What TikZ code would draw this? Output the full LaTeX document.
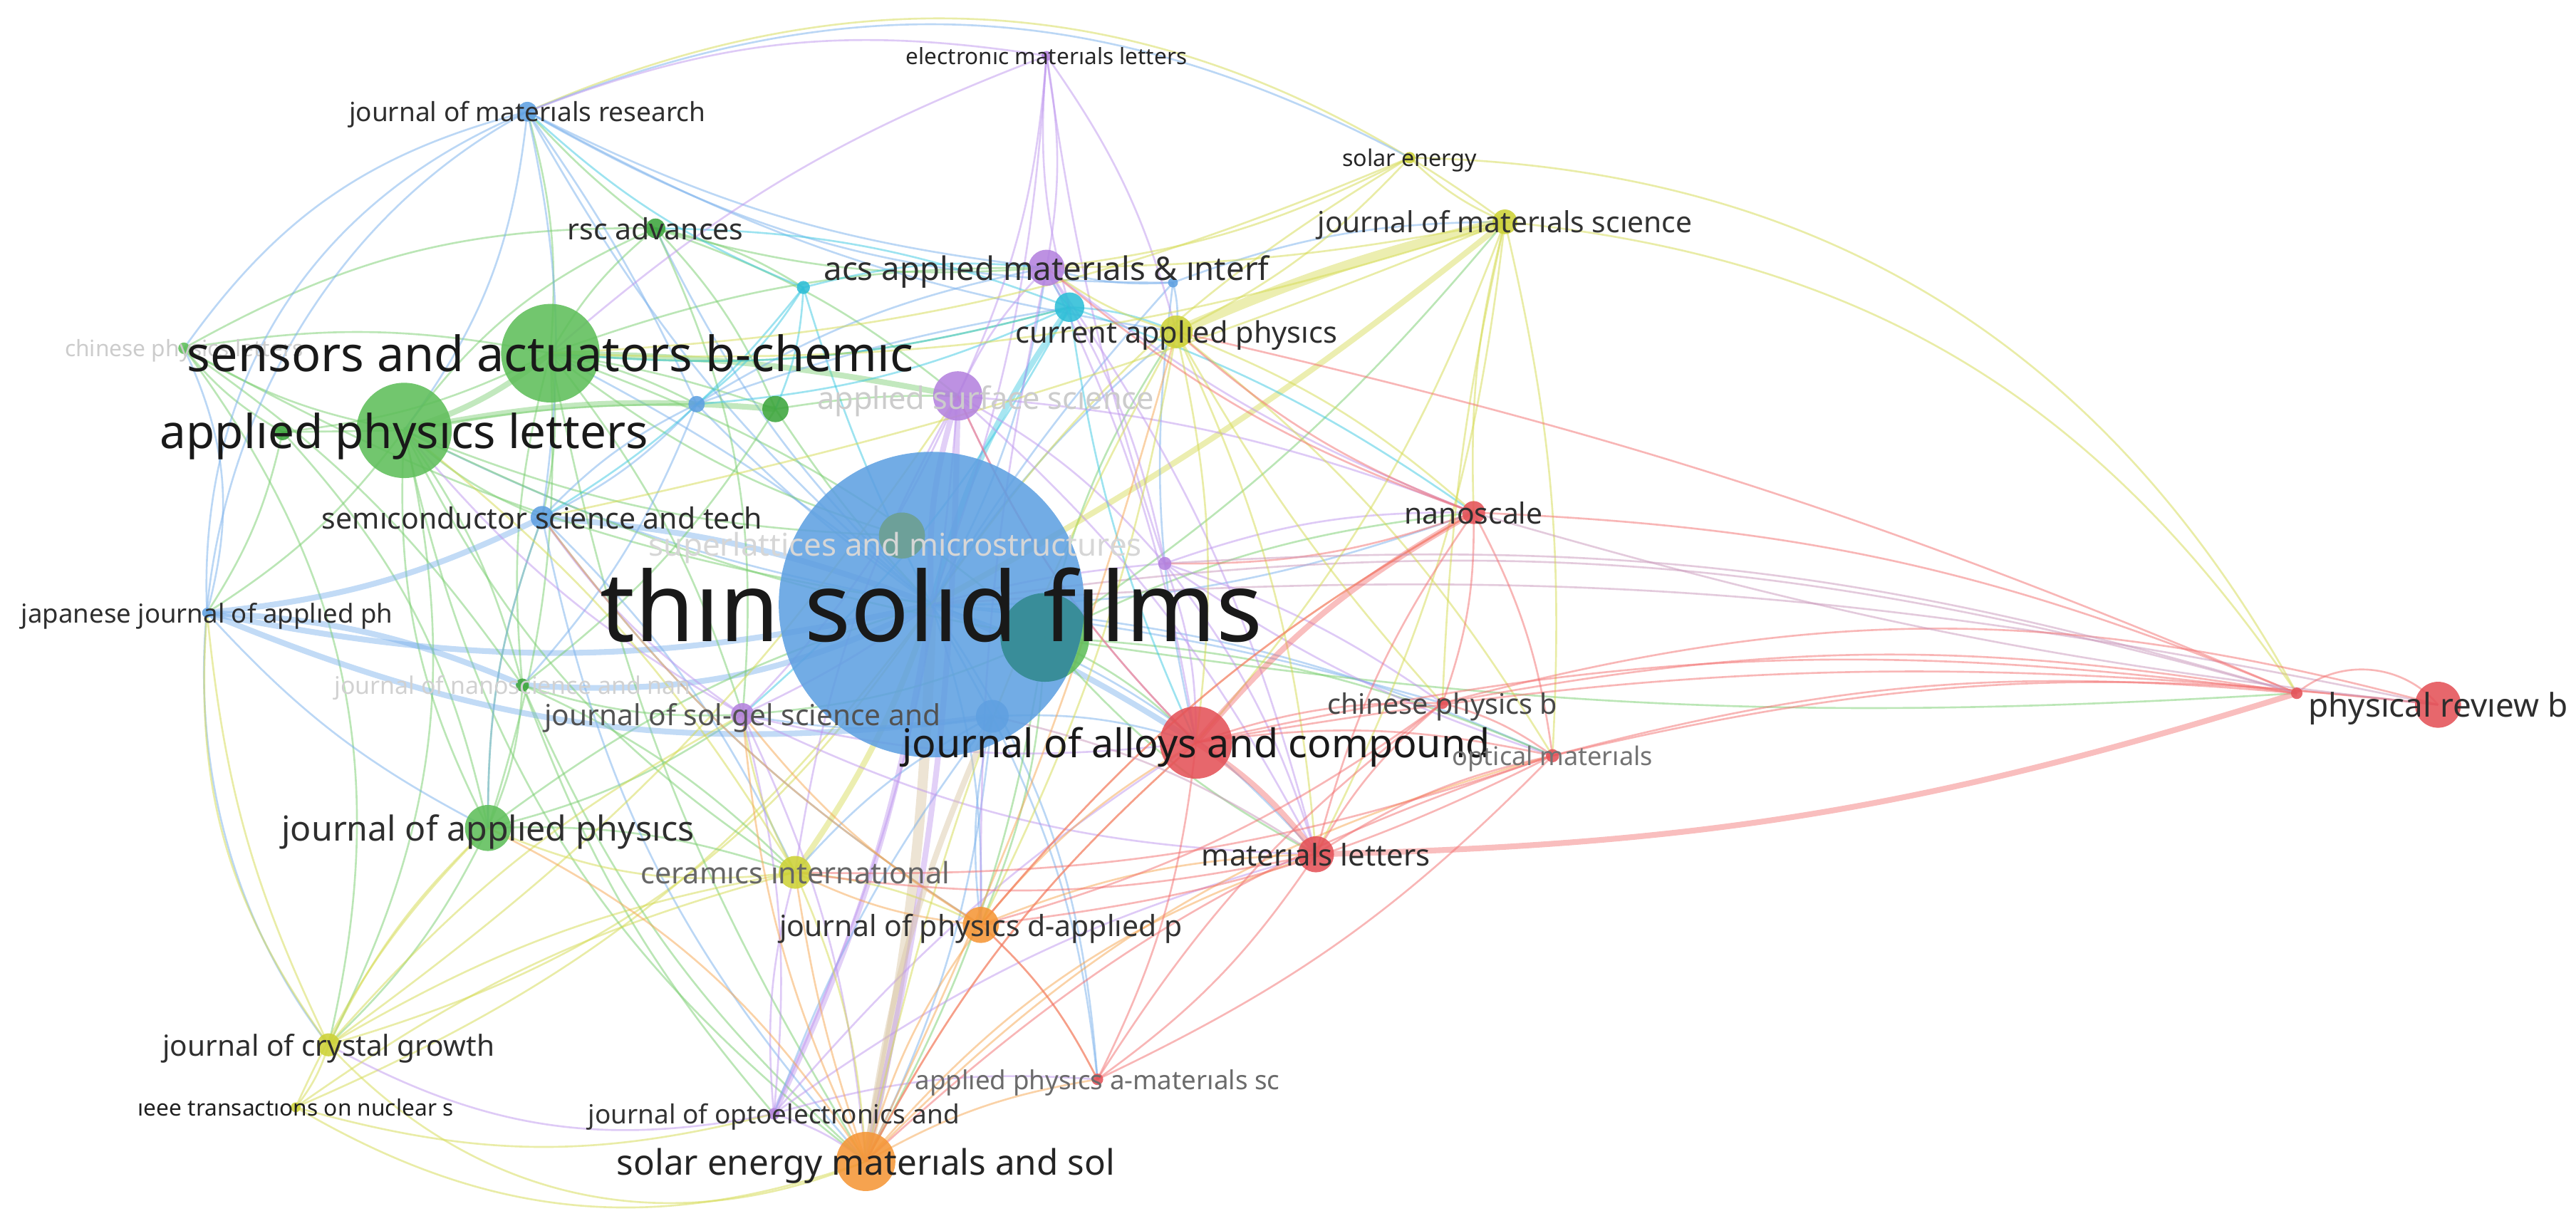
\documentclass[tikz,border=0pt]{standalone}
\usepackage{fontspec}
\setmainfont{Noto Sans}
\usepackage{graphicx}
\pgfdeclarelayer{edges}
\pgfsetlayers{edges,main}
\definecolor{cb}{RGB}{95,160,225}
\definecolor{cg}{RGB}{95,190,90}
\definecolor{cgd}{RGB}{60,165,60}
\definecolor{cr}{RGB}{228,82,88}
\definecolor{cy}{RGB}{205,210,55}
\definecolor{cp}{RGB}{180,130,222}
\definecolor{cc}{RGB}{45,190,215}
\definecolor{co}{RGB}{245,150,55}
\definecolor{cteal}{RGB}{55,140,150}
\definecolor{csup}{RGB}{110,160,150}
\definecolor{lb}{RGB}{120,175,235}
\definecolor{lg}{RGB}{120,205,110}
\definecolor{lr}{RGB}{242,110,110}
\definecolor{ly}{RGB}{212,218,80}
\definecolor{lp}{RGB}{190,150,238}
\definecolor{lc}{RGB}{60,200,225}
\definecolor{lo}{RGB}{245,165,80}
\definecolor{lt}{RGB}{215,195,160}
\definecolor{lm}{RGB}{200,150,185}
\newlength\U
\setlength\U{0.02cm}
\newcommand\jnode[4]{\node[dot,minimum size=#3cm,fill=#4] (#1) at (#2) {};}
\newcommand\edg[4]{\draw[#3] (#1.center) to[bend left=#4] (#2.center);}
\newcommand\lab[5]{\node[lbl,text=#4] (l-#1) at (#2) {\resizebox{#3\U}{!}{\raisebox{0pt}[\height][0pt]{\vphantom{l}#5}}};}
\tikzset{
  dot/.style={circle,inner sep=0pt,draw=none,fill opacity=0.88},
  lbl/.style={inner sep=0pt,anchor=center},
  ebase/.style={line width=0.65pt,opacity=0.5},
  eb/.style={ebase,draw=lb},
  eg/.style={ebase,draw=lg},
  er/.style={ebase,draw=lr},
  ey/.style={ebase,draw=ly},
  ep/.style={ebase,draw=lp},
  ec/.style={ebase,draw=lc},
  eo/.style={ebase,draw=lo},
  et/.style={ebase,draw=lt},
  em/.style={ebase,draw=lm},
  thk/.style={line width=2pt,opacity=0.45},
  thkk/.style={line width=3.5pt,opacity=0.45}
}
\begin{document}
\begin{tikzpicture}[x=0.02cm,y=-0.02cm]
\useasboundingbox (0,0) rectangle (1568,743);
% ---------- nodes (circles) ----------
\jnode{gx}{636,388}{1.08}{cg}
\jnode{sup}{549,326}{0.56}{cg}
\jnode{tsf}{567,368}{3.72}{cb}
\begin{scope}
\clip (tsf.center) circle (1.86cm);
\fill[cteal,opacity=0.95] (gx.center) circle (0.54cm);
\fill[csup,opacity=0.95] (sup.center) circle (0.28cm);
\end{scope}
\jnode{saa}{335,215}{1.2}{cg}
\jnode{apl}{246,262}{1.16}{cg}
\jnode{jap}{297,504}{0.56}{cg}
\jnode{jac}{728,452}{0.88}{cr}
\jnode{prb}{1484,429}{0.56}{cr}
\jnode{rdot}{1398,422}{0.14}{cr}
\jnode{nano}{897,312}{0.28}{cr}
\jnode{cpb}{878,428}{0.14}{cr}
\jnode{om}{945,460}{0.16}{cr}
\jnode{ml}{801,520}{0.44}{cr}
\jnode{apa}{668,657}{0.14}{cr}
\jnode{sem}{527,707}{0.72}{co}
\jnode{jpd}{597,563}{0.44}{co}
\jnode{ci}{484,531}{0.40}{cy}
\jnode{jcg}{200,636}{0.28}{cy}
\jnode{ieee}{180,674}{0.12}{cy}
\jnode{joe}{471,678}{0.14}{cp}
\jnode{jsg}{452,435}{0.28}{cp}
\jnode{jnn}{318,417}{0.16}{cgd}
\jnode{jjap}{126,373}{0.12}{cb}
\jnode{sst}{330,315}{0.28}{cb}
\jnode{cpl}{112,212}{0.14}{cg}
\jnode{rsc}{399,139}{0.24}{cgd}
\jnode{jmr}{321,68}{0.24}{cb}
\jnode{eml}{637,34}{0.12}{cp}
\jnode{se}{858,96}{0.14}{cy}
\jnode{jms}{916,135}{0.30}{cy}
\jnode{acs}{637,163}{0.44}{cp}
\jnode{cap}{716,202}{0.40}{cy}
\jnode{cy1}{651,187}{0.36}{cc}
\jnode{b1}{714,172}{0.12}{cb}
\jnode{cy2}{489,175}{0.16}{cc}
\jnode{ass}{583,241}{0.60}{cp}
\jnode{g1}{472,249}{0.32}{cgd}
\jnode{b2}{424,246}{0.20}{cb}
\jnode{b3}{604,436}{0.40}{cb}
\jnode{p1}{709,343}{0.16}{cp}
\jnode{g2}{172,263}{0.20}{cgd}
% ---------- edges ----------
\begin{pgfonlayer}{edges}
% blue hub
\edg{tsf}{jmr}{eb}{10}
\edg{tsf}{sst}{eb,thk}{-8}
\edg{tsf}{jjap}{eb,thk}{12}
\edg{tsf}{jnn}{eb,thk}{15}
\edg{tsf}{b2}{eb}{5}
\edg{tsf}{apl}{eb}{8}
\edg{tsf}{saa}{eb}{-6}
\edg{tsf}{rsc}{eb}{10}
\edg{tsf}{acs}{eb}{-10}
\edg{tsf}{cap}{eb}{8}
\edg{tsf}{b1}{eb}{5}
\edg{tsf}{cy2}{ec}{5}
\edg{tsf}{cy1}{ec,thk}{10}
\edg{tsf}{jms}{ey,thk}{-5}
\edg{tsf}{sem}{et,thkk}{5}
\edg{tsf}{jpd}{eb}{10}
\edg{tsf}{ci}{ey,thk}{8}
\edg{tsf}{jcg}{ey}{20}
\edg{tsf}{jap}{eg}{-10}
\edg{tsf}{jac}{eb,thk}{5}
\edg{tsf}{ml}{eb}{15}
\edg{tsf}{nano}{eb}{-10}
\edg{tsf}{rdot}{em}{12}
\edg{tsf}{prb}{em}{8}
\edg{tsf}{om}{eb}{10}
\edg{tsf}{cpb}{eb}{5}
\edg{tsf}{apa}{eb}{15}
\edg{tsf}{joe}{ep,thk}{8}
\edg{tsf}{jsg}{ep}{5}
\edg{tsf}{ass}{ep,thk}{10}
\edg{tsf}{eml}{ep}{-8}
\edg{tsf}{se}{ey}{12}
\edg{tsf}{cpl}{eg}{10}
\edg{tsf}{ieee}{ey}{15}
\edg{tsf}{b3}{eb}{0}
\edg{tsf}{p1}{ep}{5}
\edg{tsf}{g1}{eg}{5}
% teal / green node in centre
\edg{gx}{jac}{eg}{10}
\edg{gx}{nano}{eg}{10}
\edg{gx}{ml}{eg}{-10}
\edg{gx}{sem}{eg}{10}
\edg{gx}{cap}{eg}{10}
\edg{gx}{jms}{eg}{-8}
\edg{gx}{jpd}{eg}{10}
\edg{gx}{om}{eg}{10}
\edg{gx}{rdot}{eg}{-6}
\edg{gx}{jsg}{eg}{10}
% green
\edg{saa}{apl}{eg,thk}{10}
\edg{saa}{rsc}{eg}{10}
\edg{saa}{g1}{eg}{5}
\edg{apl}{rsc}{eg}{15}
\edg{apl}{jap}{eg}{-15}
\edg{apl}{cpl}{eg}{10}
\edg{apl}{g2}{eg}{0}
\edg{saa}{cpl}{eg}{-10}
\edg{saa}{jap}{eg}{10}
\edg{apl}{jnn}{eg}{10}
\edg{saa}{jnn}{eg}{-10}
\edg{rsc}{g1}{eg}{10}
\edg{rsc}{jmr}{eg}{5}
\edg{rsc}{cy2}{eg}{10}
\edg{rsc}{acs}{eg}{-10}
\edg{jap}{jcg}{eg}{10}
\edg{jap}{sst}{eg}{10}
\edg{apl}{sst}{eg}{-10}
\edg{apl}{jjap}{eg}{10}
\edg{saa}{jmr}{eg}{-10}
\edg{g2}{jap}{eg}{15}
\edg{g2}{saa}{eg}{-10}
\edg{cpl}{rsc}{eg}{15}
\edg{apl}{jcg}{eg}{20}
\edg{jnn}{jap}{eg}{10}
\edg{g1}{ass}{eg}{5}
\edg{saa}{ass}{eg,thk}{5}
\edg{saa}{acs}{eg}{10}
\edg{apl}{b2}{eg}{5}
\edg{apl}{ci}{eg}{-15}
\edg{saa}{jsg}{eg}{10}
\edg{saa}{sst}{eg}{10}
\edg{saa}{cy1}{eg}{-10}
\edg{apl}{g1}{eg,thk}{8}
\edg{saa}{b2}{eg}{8}
\edg{rsc}{ass}{eg}{10}
\edg{g2}{cpl}{eg}{10}
\edg{g2}{jjap}{eg}{10}
\edg{saa}{gx}{eg}{10}
\edg{apl}{gx}{eg}{-8}
\edg{rsc}{jsg}{eg}{15}
\edg{jnn}{ci}{eg}{10}
\edg{jnn}{jsg}{eg}{-10}
\edg{jap}{ci}{eg}{10}
\edg{jap}{jsg}{eg}{-10}
\edg{g1}{jnn}{eg}{10}
\edg{sup}{saa}{eg}{10}
\edg{sup}{apl}{eg}{10}
\edg{cpl}{jcg}{eg}{25}
\edg{cpl}{jnn}{eg}{10}
\edg{jnn}{sem}{eg}{-12}
\edg{jnn}{joe}{eg}{-10}
\edg{apl}{sem}{eg}{-20}
\edg{saa}{sem}{eg}{-10}
% blue
\edg{jmr}{sst}{eb}{10}
\edg{jmr}{jjap}{eb}{-35}
\edg{jmr}{b2}{eb}{5}
\edg{jmr}{apl}{eb}{15}
\edg{jmr}{jcg}{eb}{-50}
\edg{jmr}{acs}{eb}{-10}
\edg{jmr}{cap}{eb}{-10}
\edg{jmr}{b1}{eb}{-15}
\edg{jmr}{jms}{ey}{30}
\edg{jmr}{se}{eb}{25}
\edg{sst}{jjap}{eb,thk}{10}
\edg{sst}{b2}{eb}{10}
\edg{sst}{jap}{eb}{-10}
\edg{jjap}{jap}{eb}{-10}
\edg{jjap}{jcg}{ey}{-20}
\edg{b1}{cap}{eb}{10}
\edg{b1}{acs}{eb}{10}
\edg{b3}{jac}{eb}{10}
\edg{b3}{sem}{eb}{10}
\edg{b3}{jpd}{eb}{-10}
\edg{b2}{jnn}{eb}{10}
\edg{b2}{sst}{eb}{10}
\edg{jjap}{jnn}{eb,thk}{10}
\edg{jjap}{b3}{eb,thk}{-15}
\edg{b2}{acs}{eb}{10}
\edg{b2}{cy1}{eb}{5}
\edg{b1}{jms}{eb}{10}
\edg{b1}{jac}{eb}{-10}
\edg{jjap}{cpl}{eb}{-20}
\edg{jmr}{cpl}{eb}{-20}
\edg{b3}{jsg}{eb}{10}
\edg{b3}{ci}{eb}{-10}
\edg{b3}{apa}{eb}{10}
\edg{b3}{joe}{eb}{-8}
\edg{sst}{sem}{eb}{-15}
\edg{sst}{jpd}{eb}{-10}
\edg{sst}{ci}{eb}{10}
% cyan
\edg{cy1}{acs}{ec}{10}
\edg{cy1}{cap}{ec}{10}
\edg{cy2}{acs}{ec}{10}
\edg{cy2}{b2}{ec}{10}
\edg{cy1}{rsc}{ec}{-10}
\edg{cy1}{saa}{ec}{10}
\edg{cy2}{jmr}{ec}{10}
\edg{cy1}{b2}{ec}{10}
\edg{cy2}{sst}{ec}{10}
\edg{cy1}{jsg}{ec}{10}
\edg{cy2}{g1}{ec}{10}
\edg{cy1}{jac}{ec}{-8}
\edg{cy1}{nano}{ec}{8}
% purple
\edg{eml}{acs}{ep}{10}
\edg{eml}{ass}{ep}{10}
\edg{eml}{cy1}{ep}{-10}
\edg{eml}{cap}{ep}{10}
\edg{eml}{jmr}{ep}{-15}
\edg{eml}{saa}{ep}{-10}
\edg{eml}{p1}{ep}{-5}
\edg{ass}{acs}{ep}{10}
\edg{p1}{jac}{ep}{10}
\edg{p1}{nano}{ep}{10}
\edg{p1}{ml}{ep}{10}
\edg{p1}{om}{ep}{-8}
\edg{p1}{cpb}{ep}{8}
\edg{jsg}{joe}{ep}{10}
\edg{jsg}{sem}{ep}{10}
\edg{joe}{sem}{ep}{10}
\edg{joe}{jcg}{ep}{20}
\edg{jsg}{apl}{ep}{10}
\edg{jsg}{sst}{ep}{10}
\edg{ass}{jsg}{ep}{10}
\edg{ass}{joe}{ep}{10}
\edg{ass}{p1}{ep}{10}
\edg{ass}{jac}{ep}{-10}
\edg{ass}{nano}{ep}{8}
\edg{ass}{ml}{ep}{10}
\edg{acs}{jac}{ep}{8}
\edg{acs}{nano}{ep}{-8}
\edg{acs}{ml}{ep}{10}
\edg{acs}{jpd}{ep}{-6}
\edg{joe}{apa}{ep}{10}
\edg{joe}{ci}{ep}{10}
\edg{joe}{jac}{ep}{8}
\edg{joe}{ml}{ep}{10}
\edg{jsg}{jac}{ep}{-10}
\edg{jsg}{ml}{ep}{-12}
\edg{acs}{p1}{ep}{10}
\edg{ass}{ci}{ep}{-10}
\edg{sem}{ass}{ep,thk}{-6}
% yellow
\edg{jms}{se}{ey}{10}
\edg{jms}{cap}{ey,thkk}{-5}
\edg{jms}{rdot}{ey}{25}
\edg{se}{rdot}{ey}{30}
\edg{jms}{jac}{ey}{10}
\edg{jms}{ml}{ey}{10}
\edg{jms}{om}{ey}{8}
\edg{jms}{nano}{ey}{-8}
\edg{jms}{cpb}{ey}{-5}
\edg{se}{cap}{ey}{10}
\edg{se}{acs}{ey}{10}
\edg{se}{saa}{ey}{10}
\edg{jms}{acs}{ey}{5}
\edg{jms}{saa}{ey}{10}
\edg{jms}{sst}{ey}{5}
\edg{ci}{jcg}{ey}{-10}
\edg{ci}{jpd}{ey}{10}
\edg{ci}{sem}{ey}{10}
\edg{jcg}{ieee}{ey}{10}
\edg{jcg}{sem}{ey}{-35}
\edg{ieee}{sem}{ey}{-25}
\edg{jcg}{jap}{ey}{10}
\edg{ieee}{jap}{ey}{10}
\edg{cap}{jac}{ey}{10}
\edg{cap}{ml}{ey}{10}
\edg{cap}{om}{ey}{10}
\edg{cap}{cpb}{ey}{-6}
\edg{cap}{jpd}{ey}{8}
\edg{cap}{sem}{ey}{-8}
\edg{ci}{jsg}{ey}{10}
\edg{jcg}{jjap}{ey}{10}
\edg{cap}{acs}{ey}{10}
\edg{cap}{nano}{ey}{10}
\edg{ci}{jap}{ey}{15}
\edg{ci}{apl}{ey}{-10}
\edg{jcg}{jsg}{ey}{10}
\edg{jcg}{ass}{ey}{-10}
\edg{ieee}{ci}{ey}{10}
\edg{ieee}{joe}{ey}{-15}
% orange
\edg{sem}{jpd}{eo}{10}
\edg{sem}{jac}{eo}{10}
\edg{sem}{ml}{eo}{15}
\edg{sem}{apa}{eo}{10}
\edg{jpd}{jac}{eo}{10}
\edg{jpd}{ml}{eo}{10}
\edg{jpd}{ci}{eo}{10}
\edg{jpd}{apa}{eo}{10}
\edg{sem}{om}{eo}{15}
\edg{sem}{ci}{eo}{5}
\edg{jpd}{sst}{eo}{10}
\edg{jpd}{jsg}{eo}{10}
\edg{sem}{jsg}{eo}{10}
\edg{sem}{cap}{eo}{-5}
\edg{jpd}{nano}{eo}{10}
\edg{sem}{jap}{eo}{-15}
\edg{sem}{b3}{et,thk}{8}
% red
\edg{jac}{nano}{er,thk}{10}
\edg{jac}{cpb}{er}{10}
\edg{jac}{om}{er}{10}
\edg{jac}{ml}{er,thk}{10}
\edg{jac}{apa}{er}{10}
\edg{jac}{rdot}{er}{10}
\edg{jac}{prb}{er}{8}
\edg{ml}{rdot}{er,thk}{-8}
\edg{ml}{om}{er}{10}
\edg{ml}{cpb}{er}{10}
\edg{ml}{nano}{er}{10}
\edg{ml}{apa}{er}{10}
\edg{nano}{om}{er}{10}
\edg{nano}{cpb}{er}{10}
\edg{nano}{rdot}{er}{10}
\edg{cpb}{om}{er}{10}
\edg{cpb}{rdot}{er}{10}
\edg{om}{rdot}{er}{10}
\edg{om}{apa}{er}{10}
\edg{rdot}{prb}{er}{45}
\edg{apa}{cpb}{er}{10}
\edg{om}{jpd}{er}{10}
\edg{nano}{jpd}{er}{-10}
\edg{cap}{rdot}{er}{5}
\edg{nano}{acs}{er}{10}
\edg{nano}{cap}{er}{10}
\edg{cpb}{jpd}{er}{10}
\edg{om}{ci}{er}{10}
\edg{nano}{p1}{er}{10}
\edg{ml}{ci}{er}{10}
\edg{jac}{ass}{er}{10}
\edg{om}{prb}{er}{10}
\edg{cpb}{prb}{er}{15}
\edg{jac}{sem}{er}{-10}
\edg{apa}{jpd}{er}{-10}
\edg{om}{sem}{er}{-12}
\edg{p1}{rdot}{em}{10}
\edg{b3}{ml}{em}{10}
\edg{nano}{prb}{em}{-5}
\end{pgfonlayer}
% ---------- labels ----------
\lab{sup}{545,331}{300}{black!16}{superlattices and microstructures}
\lab{ass}{600,242}{205}{black!20}{applıed surface scıence}
\lab{jnn}{312,417}{217}{black!18}{journal of nanoscience and nan}
\lab{cpl}{112,212}{145}{black!20}{chinese physics letters}
\lab{tsf}{tsf.center}{403}{black!90}{thın solıd fılms}
\lab{saa}{saa.center}{442}{black!90}{sensors and actuators b-chemıc}
\lab{apl}{apl.center}{297}{black!90}{applıed physıcs letters}
\lab{jap}{jap.center}{251}{black!82}{journal of applıed physıcs}
\lab{jac}{jac.center}{358}{black!90}{journal of alloys and compound}
\lab{prb}{prb.center}{158}{black!82}{physıcal revıew b}
\lab{nano}{nano.center}{84}{black!82}{nanoscale}
\lab{cpb}{cpb.center}{140}{black!72}{chinese physics b}
\lab{om}{om.center}{122}{black!55}{optical materıals}
\lab{ml}{ml.center}{139}{black!82}{materıals letters}
\lab{apa}{apa.center}{222}{black!58}{applıed physıcs a-materıals sc}
\lab{sem}{sem.center}{303}{black!86}{solar energy materıals and sol}
\lab{jpd}{jpd.center}{245}{black!80}{journal of physıcs d-applıed p}
\lab{ci}{ci.center}{188}{black!60}{ceramıcs ınternatıonal}
\lab{jcg}{jcg.center}{202}{black!82}{journal of crystal growth}
\lab{ieee}{ieee.center}{192}{black!88}{ıeee transactıons on nuclear s}
\lab{joe}{joe.center}{226}{black!80}{journal of optoelectronics and}
\lab{jsg}{jsg.center}{241}{black!68}{journal of sol-gel science and}
\lab{jjap}{jjap.center}{226}{black!82}{japanese journal of applıed ph}
\lab{sst}{sst.center}{268}{black!82}{semıconductor science and tech}
\lab{rsc}{rsc.center}{107}{black!82}{rsc advances}
\lab{jmr}{jmr.center}{217}{black!82}{journal of materıals research}
\lab{eml}{eml.center}{171}{black!85}{electronıc materıals letters}
\lab{se}{se.center}{82}{black!85}{solar energy}
\lab{jms}{jms.center}{228}{black!80}{journal of materıals scıence}
\lab{acs}{acs.center}{271}{black!82}{acs applıed materıals \& ınterf}
\lab{cap}{cap.center}{196}{black!82}{current applıed physıcs}
\end{tikzpicture}
\end{document}
